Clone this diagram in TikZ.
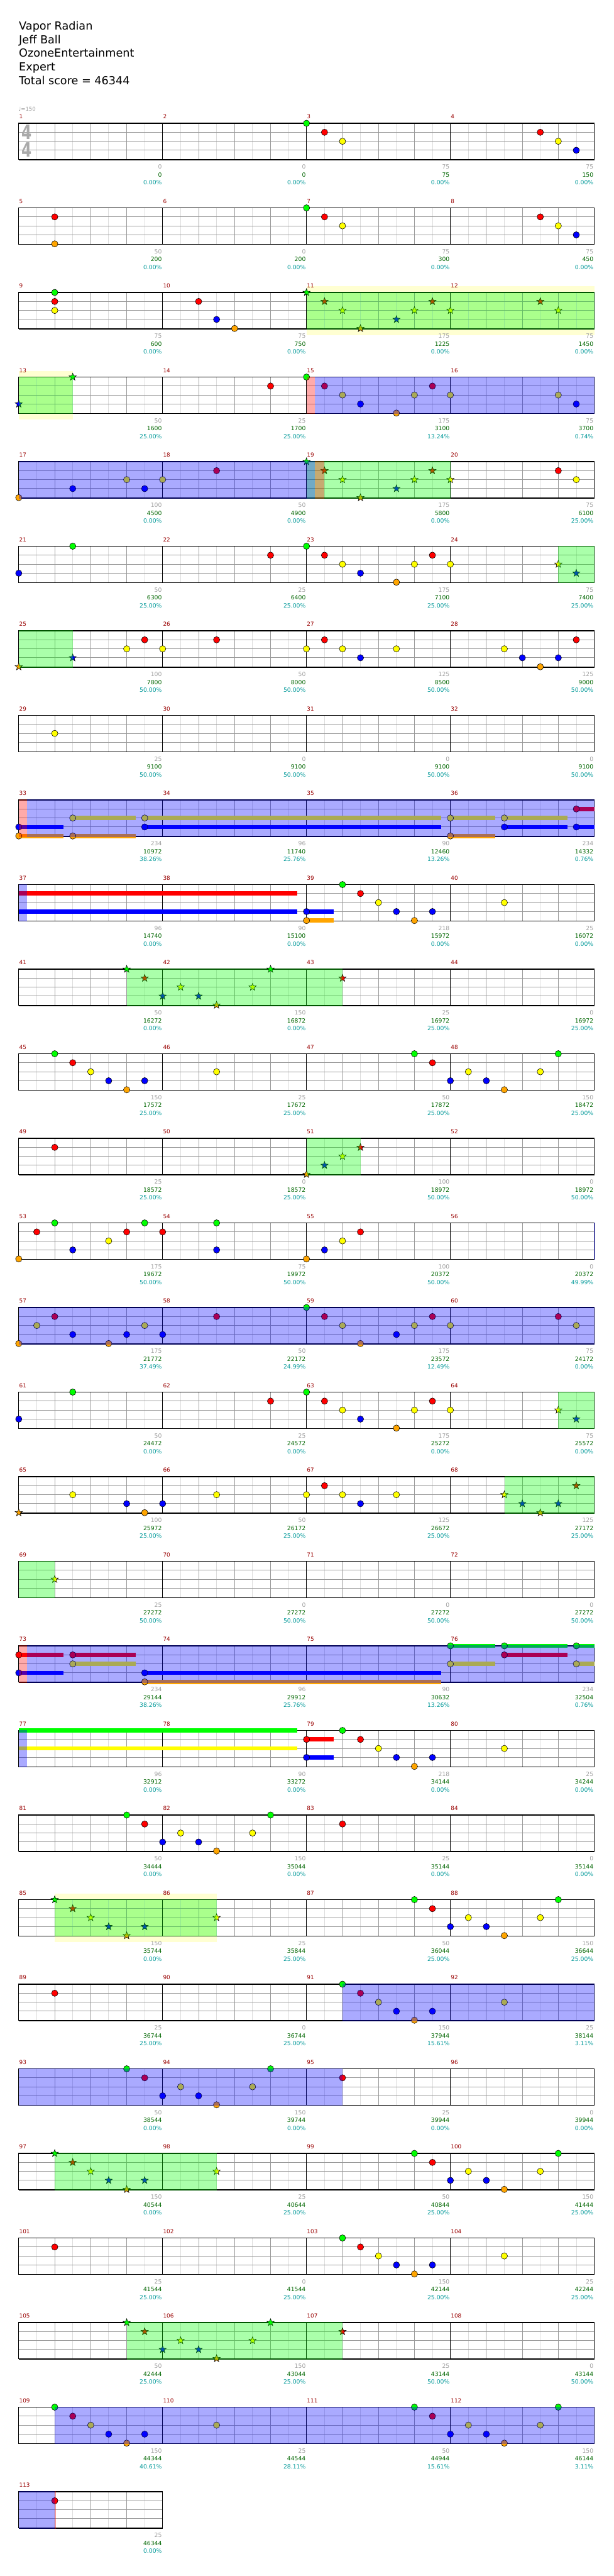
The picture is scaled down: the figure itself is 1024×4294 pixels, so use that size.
\documentclass[tikz,border=0pt]{standalone}
\usepackage{fontspec}
\setmainfont{DejaVu Sans}
\definecolor{lane0}{RGB}{0,255,0}
\definecolor{lane1}{RGB}{255,0,0}
\definecolor{lane2}{RGB}{255,255,0}
\definecolor{lane3}{RGB}{0,0,255}
\definecolor{lane4}{RGB}{255,165,0}
\definecolor{mnum}{RGB}{153,0,0}
\definecolor{lgray}{RGB}{160,160,160}
\definecolor{lgreen}{RGB}{0,102,0}
\definecolor{lcyan}{RGB}{0,153,153}
\definecolor{gridl}{RGB}{221,221,221}
\definecolor{gridd}{RGB}{153,153,153}
\definecolor{band}{RGB}{255,255,210}
\definecolor{tsgray}{RGB}{170,170,170}
\newcommand\starnote[3]{\filldraw[fill=#3,draw=black,line width=0.6pt] (#1,#2) +(270:6.4) -- +(306:2.6) -- +(342:6.4) -- +(18:2.6) -- +(54:6.4) -- +(90:2.6) -- +(126:6.4) -- +(162:2.6) -- +(198:6.4) -- +(234:2.6) -- cycle;}
\begin{document}
\begin{tikzpicture}[x=1pt,y=-1pt,
  lbl/.style={font=\fontsize{9.7}{10}\selectfont, inner sep=0pt},
  numlbl/.style={font=\fontsize{9.3}{10}\selectfont, inner sep=0pt, text=mnum},
  ttl/.style={font=\fontsize{18.5}{20}\selectfont, inner sep=0pt, anchor=base west}]
\useasboundingbox (0,0) rectangle (1024,4294);
\fill[white] (0,0) rectangle (1024,4294);
% title
\node[ttl] (t1) at (31.5,50) {Vapor Radian};
\node[ttl] (t2) at (31.5,72.5) {Jeff Ball};
\node[ttl] (t3) at (31.5,95) {OzoneEntertainment};
\node[ttl] (t4) at (31.5,118) {Expert};
\node[ttl] (t5) at (31.5,141) {Total score = 46344};
\node[font=\fontsize{9}{10}\selectfont, text=lgray, inner sep=0pt, anchor=base west] (tempo) at (30.5,185) {♩=150};
% star power bands
\foreach \rw/\qa/\qb in {2/16/32,3/0/3,21/2/11}
  \fill[band] (31.3+30*\qa,195.5+141*\rw) rectangle (31.3+30*\qb,276.5+141*\rw);
% staves
\foreach \rw in {0,...,28} {
  \ifnum\rw=28 \def\nn{8}\else\def\nn{32}\fi
  \pgfmathsetmacro\tp{205.5+141*\rw}
  \pgfmathsetmacro\xe{31.3+30*\nn}
  \foreach \kk in {1,3,...,\nn} \draw[gridl,line width=1pt] (31.3+30*\kk,\tp) -- ++(0,60.5);
  \foreach \hh in {15,30,45} \draw[gridd,line width=1pt] (31.3,\tp+\hh) -- (\xe,\tp+\hh);
  \foreach \kk in {2,4,...,\nn} \draw[gridd,line width=1pt] (31.3+30*\kk,\tp) -- ++(0,60.5);
  \ifnum\rw<28
    \foreach \kk in {8,16,24} \draw[black,line width=1pt] (31.3+30*\kk,\tp) -- ++(0,60.5);
  \fi
  \draw[black,line width=1.2pt] (31.3,\tp) rectangle (\xe,\tp+60.5);
  \draw[black,line width=1pt] (31.3,\tp+61) -- (\xe,\tp+61);
}
% time signature
\node[font=\fontsize{33}{33}\selectfont\bfseries, text=tsgray, xscale=0.74, inner sep=0pt, anchor=base west] (ts1) at (35.5,232) {4};
\node[font=\fontsize{33}{33}\selectfont\bfseries, text=tsgray, xscale=0.74, inner sep=0pt, anchor=base west] (ts2) at (35.5,262) {4};
% sustains
\foreach \rw/\qq/\qe/\la in {8/0/2.5/3,8/0/2.5/4,8/3/6.5/2,8/3/6.5/4,8/7/23.5/2,8/7/23.5/3,8/24/26.5/2,8/24/26.5/4,8/27/30.5/2,8/27/30.5/3,8/31/32/1,8/31/32/3,
  9/0/15.5/1,9/0/15.5/3,9/16/17.5/3,9/16/17.5/4,
  18/0/2.5/1,18/0/2.5/3,18/3/6.5/1,18/3/6.5/2,18/7/23.5/3,18/7/23.5/4,18/24/26.5/0,18/24/26.5/2,18/27/30.5/0,18/27/30.5/1,18/31/32/0,18/31/32/2,
  19/0/15.5/0,19/0/15.5/2,19/16/17.5/1,19/16/17.5/3}
  \fill[lane\la] (31.3+30*\qq,202+141*\rw+15*\la) rectangle (31.3+30*\qe,209+141*\rw+15*\la);
% notes
\foreach \rw/\qq/\la in {0/16/0,0/17/1,0/18/2,0/29/1,0/30/2,0/31/3,
  1/2/1,1/2/4,1/16/0,1/17/1,1/18/2,1/29/1,1/30/2,1/31/3,
  2/2/0,2/2/1,2/2/2,2/10/1,2/11/3,2/12/4,
  3/14/1,3/16/0,3/17/1,3/18/2,3/19/3,3/21/4,3/22/2,3/23/1,3/24/2,3/30/2,3/31/3,
  4/0/4,4/3/3,4/6/2,4/7/3,4/8/2,4/11/1,4/30/1,4/31/2,
  5/0/3,5/3/0,5/14/1,5/16/0,5/17/1,5/18/2,5/19/3,5/21/4,5/22/2,5/23/1,5/24/2,
  6/6/2,6/7/1,6/8/2,6/11/1,6/16/2,6/17/1,6/18/2,6/19/3,6/21/2,6/27/2,6/28/3,6/29/4,6/30/3,6/31/1,
  7/2/2,
  8/0/3,8/0/4,8/3/2,8/3/4,8/7/2,8/7/3,8/24/2,8/24/4,8/27/2,8/27/3,8/31/1,8/31/3,
  9/16/3,9/16/4,9/18/0,9/19/1,9/20/2,9/21/3,9/22/4,9/23/3,9/27/2,
  11/2/0,11/3/1,11/4/2,11/5/3,11/6/4,11/7/3,11/11/2,11/22/0,11/23/1,11/24/3,11/25/2,11/26/3,11/27/4,11/29/2,11/30/0,
  12/2/1,
  13/0/4,13/1/1,13/2/0,13/3/3,13/5/2,13/6/1,13/7/0,13/8/1,13/11/0,13/11/3,13/16/4,13/17/3,13/18/2,13/19/1,
  14/0/4,14/1/2,14/2/1,14/3/3,14/5/4,14/6/3,14/7/2,14/8/3,14/11/1,14/16/0,14/17/1,14/18/2,14/19/4,14/21/3,14/22/2,14/23/1,14/24/2,14/30/1,14/31/2,
  15/0/3,15/3/0,15/14/1,15/16/0,15/17/1,15/18/2,15/19/3,15/21/4,15/22/2,15/23/1,15/24/2,
  16/3/2,16/6/3,16/7/4,16/8/3,16/11/2,16/16/2,16/17/1,16/18/2,16/19/3,16/21/2,
  18/0/1,18/0/3,18/3/1,18/3/2,18/7/3,18/7/4,18/24/0,18/24/2,18/27/0,18/27/1,18/31/0,18/31/2,
  19/16/1,19/16/3,19/18/0,19/19/1,19/20/2,19/21/3,19/22/4,19/23/3,19/27/2,
  20/6/0,20/7/1,20/8/3,20/9/2,20/10/3,20/11/4,20/13/2,20/14/0,20/18/1,
  21/22/0,21/23/1,21/24/3,21/25/2,21/26/3,21/27/4,21/29/2,21/30/0,
  22/2/1,22/18/0,22/19/1,22/20/2,22/21/3,22/22/4,22/23/3,22/27/2,
  23/6/0,23/7/1,23/8/3,23/9/2,23/10/3,23/11/4,23/13/2,23/14/0,23/18/1,
  24/22/0,24/23/1,24/24/3,24/25/2,24/26/3,24/27/4,24/29/2,24/30/0,
  25/2/1,25/18/0,25/19/1,25/20/2,25/21/3,25/22/4,25/23/3,25/27/2,
  27/2/0,27/3/1,27/4/2,27/5/3,27/6/4,27/7/3,27/11/2,27/22/0,27/23/1,27/24/3,27/25/2,27/26/3,27/27/4,27/29/2,27/30/0,
  28/2/1}
  \filldraw[fill=lane\la,draw=black,line width=0.6pt] (31.3+30*\qq,205.5+141*\rw+15*\la) circle[radius=5.3pt];
% star notes
\foreach \rw/\qq/\la in {2/16/0,2/17/1,2/18/2,2/19/4,2/21/3,2/22/2,2/23/1,2/24/2,2/29/1,2/30/2,
  3/0/3,3/3/0,
  4/16/0,4/17/1,4/18/2,4/19/4,4/21/3,4/22/2,4/23/1,4/24/2,
  5/30/2,5/31/3,
  6/0/4,6/3/3,
  10/6/0,10/7/1,10/8/3,10/9/2,10/10/3,10/11/4,10/13/2,10/14/0,10/18/1,
  12/16/4,12/17/3,12/18/2,12/19/1,
  15/30/2,15/31/3,
  16/0/4,16/27/2,16/28/3,16/29/4,16/30/3,16/31/1,
  17/2/2,
  21/2/0,21/3/1,21/4/2,21/5/3,21/6/4,21/7/3,21/11/2,
  24/2/0,24/3/1,24/4/2,24/5/3,24/6/4,24/7/3,24/11/2,
  26/6/0,26/7/1,26/8/3,26/9/2,26/10/3,26/11/4,26/13/2,26/14/0,26/18/1}
  {\pgfmathsetmacro\sx{31.3+30*\qq}\pgfmathsetmacro\sy{205.5+141*\rw+15*\la}\starnote{\sx}{\sy}{lane\la}}
% overlays
\foreach \rw/\qa/\qb in {2/16/32,3/0/3,4/16/24,5/30/32,6/0/3,10/6/18,12/16/19,15/30/32,16/27/32,17/0/2,21/2/11,24/2/11,26/6/18}
  \fill[lane0,opacity=0.3333] (31.3+30*\qa,204.9+141*\rw) rectangle (31.3+30*\qb,266.8+141*\rw);
\foreach \rw/\qa/\qb in {3/16.45/32,4/0/16.45,8/0.45/32,9/0/0.45,13/31.97/32.04,14/0/32,18/0.45/32,19/0/0.45,22/18/32,23/0/18,27/2/32,28/0/2}
  \fill[lane3,opacity=0.3333] (31.3+30*\qa,204.9+141*\rw) rectangle (31.3+30*\qb,266.8+141*\rw);
\foreach \rw/\qa/\qb in {3/16/16.45,4/16.45/17,8/0/0.45,18/0/0.45,28/2/2.05}
  \fill[lane1,opacity=0.3333] (31.3+30*\qa,204.9+141*\rw) rectangle (31.3+30*\qb,266.8+141*\rw);
% measure labels
\foreach \mm/\ga/\gb/\pc in {1/0/0/0.00,2/0/0/0.00,3/75/75/0.00,4/75/150/0.00,5/50/200/0.00,6/0/200/0.00,7/75/300/0.00,8/75/450/0.00,
  9/75/600/0.00,10/75/750/0.00,11/175/1225/0.00,12/75/1450/0.00,13/50/1600/25.00,14/25/1700/25.00,15/175/3100/13.24,16/75/3700/0.74,
  17/100/4500/0.00,18/50/4900/0.00,19/175/5800/0.00,20/75/6100/25.00,21/50/6300/25.00,22/25/6400/25.00,23/175/7100/25.00,24/75/7400/25.00,
  25/100/7800/50.00,26/50/8000/50.00,27/125/8500/50.00,28/125/9000/50.00,29/25/9100/50.00,30/0/9100/50.00,31/0/9100/50.00,32/0/9100/50.00,
  33/234/10972/38.26,34/96/11740/25.76,35/90/12460/13.26,36/234/14332/0.76,37/96/14740/0.00,38/90/15100/0.00,39/218/15972/0.00,40/25/16072/0.00,
  41/50/16272/0.00,42/150/16872/0.00,43/25/16972/25.00,44/0/16972/25.00,45/150/17572/25.00,46/25/17672/25.00,47/50/17872/25.00,48/150/18472/25.00,
  49/25/18572/25.00,50/0/18572/25.00,51/100/18972/50.00,52/0/18972/50.00,53/175/19672/50.00,54/75/19972/50.00,55/100/20372/50.00,56/0/20372/49.99,
  57/175/21772/37.49,58/50/22172/24.99,59/175/23572/12.49,60/75/24172/0.00,61/50/24472/0.00,62/25/24572/0.00,63/175/25272/0.00,64/75/25572/0.00,
  65/100/25972/25.00,66/50/26172/25.00,67/125/26672/25.00,68/125/27172/25.00,69/25/27272/50.00,70/0/27272/50.00,71/0/27272/50.00,72/0/27272/50.00,
  73/234/29144/38.26,74/96/29912/25.76,75/90/30632/13.26,76/234/32504/0.76,77/96/32912/0.00,78/90/33272/0.00,79/218/34144/0.00,80/25/34244/0.00,
  81/50/34444/0.00,82/150/35044/0.00,83/25/35144/0.00,84/0/35144/0.00,85/150/35744/0.00,86/25/35844/25.00,87/50/36044/25.00,88/150/36644/25.00,
  89/25/36744/25.00,90/0/36744/25.00,91/150/37944/15.61,92/25/38144/3.11,93/50/38544/0.00,94/150/39744/0.00,95/25/39944/0.00,96/0/39944/0.00,
  97/150/40544/0.00,98/25/40644/25.00,99/50/40844/25.00,100/150/41444/25.00,101/25/41544/25.00,102/0/41544/25.00,103/150/42144/25.00,104/25/42244/25.00,
  105/50/42444/25.00,106/150/43044/25.00,107/25/43144/50.00,108/0/43144/50.00,109/150/44344/40.61,110/25/44544/28.11,111/50/44944/15.61,112/150/46144/3.11,
  113/25/46344/0.00} {
  \pgfmathtruncatemacro\rr{(\mm-1)/4}
  \pgfmathtruncatemacro\cc{\mm-1-4*\rr}
  \pgfmathsetmacro\tp{205.5+141*\rr}
  \pgfmathsetmacro\xr{31.3+240*(\cc+1)-1.2}
  \pgfmathsetmacro\xl{31.3+240*\cc+0.6}
  \node[numlbl, anchor=base west] (n\mm) at (\xl,\tp-7.6) {\mm};
  \node[lbl, anchor=base east, text=lgray] (g\mm) at (\xr,\tp+76.2) {\ga};
  \node[lbl, anchor=base east, text=lgreen] (s\mm) at (\xr,\tp+89.2) {\gb};
  \node[lbl, anchor=base east, text=lcyan] (p\mm) at (\xr,\tp+102.2) {\pc\%};
}
\end{tikzpicture}
\end{document}
